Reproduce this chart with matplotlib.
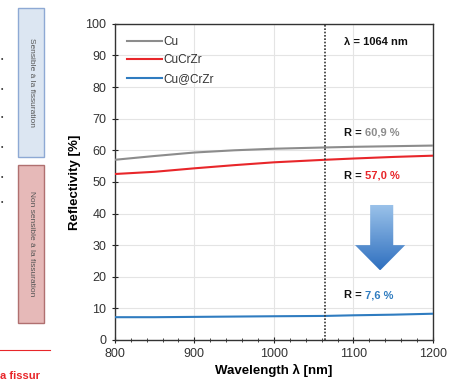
import numpy as np
import matplotlib.pyplot as plt
from matplotlib.patches import Polygon, Rectangle
from matplotlib.colors import LinearSegmentedColormap

plt.rcParams['font.family'] = ['Liberation Sans', 'DejaVu Sans']

# data
wavelength = [800, 850, 900, 950, 1000, 1064, 1100, 1150, 1200]
r_cu = [57.0, 58.2, 59.3, 60.0, 60.5, 60.9, 61.1, 61.3, 61.5]
r_cucrzr = [52.5, 53.2, 54.3, 55.3, 56.2, 57.0, 57.4, 57.9, 58.3]
r_cucrzr_coat = [7.2, 7.2, 7.3, 7.4, 7.5, 7.6, 7.8, 8.0, 8.3]

series_names = ['Cu', 'CuCrZr', 'Cu@CrZr']
series_colors = ['#8c8c8c', '#e8262a', '#2f7cc0']
laser_wl = 1064
r_labels = ['60,9 %', '57,0 %', '7,6 %']
r_label_y = [65.5, 52.0, 14.2]


def draw_arrow(ax, x0, x1, hx0, hx1, ytop, yhead, ytip):
    xm = (hx0 + hx1) / 2
    pts = [(x0, ytop), (x1, ytop), (x1, yhead), (hx1, yhead), (xm, ytip),
           (hx0, yhead), (x0, yhead)]
    poly = Polygon(pts, closed=True, facecolor='none', edgecolor='none',
                   transform=ax.transData)
    ax.add_patch(poly)
    cmap = LinearSegmentedColormap.from_list('b', ['#9cc3ea', '#2e6fbf'])
    grad = np.linspace(0, 1, 256).reshape(-1, 1)
    im = ax.imshow(grad, cmap=cmap, aspect='auto', origin='upper',
                   extent=[hx0, hx1, ytip, ytop], zorder=4)
    im.set_clip_path(poly)


fig = plt.figure(figsize=(4.52, 3.85), dpi=100)
ax = fig.add_axes([0.254, 0.117, 0.704, 0.821])

series = [r_cu, r_cucrzr, r_cucrzr_coat]
for vals, name, col in zip(series, series_names, series_colors):
    ax.plot(wavelength, vals, color=col, lw=1.5, label=name, zorder=3)

ax.axvline(laser_wl, color='#333333', lw=1.2, ls=(0, (1, 1)), zorder=3)

ax.set_xlim(800, 1200)
ax.set_ylim(0, 100)
ax.set_xticks([800, 900, 1000, 1100, 1200])
ax.set_xticks(np.arange(800, 1201, 20), minor=True)
ax.set_yticks(np.arange(0, 101, 10))
ax.grid(True, color='#e4e4e4', lw=0.8, zorder=0)
ax.tick_params(axis='both', which='both', direction='inout', labelsize=9,
               colors='#222222', labelcolor='#333333')
ax.tick_params(axis='both', which='major', length=5)
ax.tick_params(axis='x', which='minor', length=3)
for s in ax.spines.values():
    s.set_color('#333333')
    s.set_linewidth(1.0)

ax.set_xlabel('Wavelength λ [nm]', fontsize=9.5, fontweight='bold', labelpad=3)
ax.set_ylabel('Reflectivity [%]', fontsize=9.5, fontweight='bold', labelpad=3)

ax.legend(loc='upper left', frameon=False, fontsize=8.5, handlelength=3.0,
          handletextpad=0.1, labelspacing=0.55, borderaxespad=0.6,
          labelcolor='#333333')

ax.text(1128, 94.3, 'λ = 1064 nm', fontsize=8, fontweight='bold',
        ha='center', va='center', color='#111111')
for lab, y, col in zip(r_labels, r_label_y, series_colors):
    ax.text(1088, y, 'R =', fontsize=8, fontweight='bold',
            ha='left', va='center', color='#111111')
    ax.text(1114, y, lab, fontsize=8, fontweight='bold', ha='left',
            va='center', color=col)

draw_arrow(ax, 1121, 1150, 1102, 1165, 42.7, 30.0, 22.0)

# side panel from the slide
fig.patches.append(Rectangle((18 / 452, 1 - 157 / 385), 26 / 452, 149 / 385,
                             transform=fig.transFigure, facecolor='#dce6f2',
                             edgecolor='#8ea9d4', lw=1.0))
fig.patches.append(Rectangle((18 / 452, 1 - 323 / 385), 26 / 452, 158 / 385,
                             transform=fig.transFigure, facecolor='#e6b9b8',
                             edgecolor='#b07070', lw=1.0))
fig.text(31 / 452, 1 - 82 / 385, 'Sensible à la fissuration', rotation=270,
         fontsize=6, color='#555555', ha='center', va='center')
fig.text(31 / 452, 1 - 244 / 385, 'Non sensible à la fissuration',
         rotation=270, fontsize=6, color='#555555', ha='center', va='center')
for yy in [60, 90, 117, 147, 177, 203]:
    fig.text(1 / 452, 1 - yy / 385, '•', fontsize=5, color='#333333',
             ha='left', va='center')
fig.add_artist(plt.Line2D([0, 50 / 452], [1 - 350 / 385, 1 - 350 / 385],
                          transform=fig.transFigure, color='#e8262a', lw=0.8))
fig.text(0, 1 - 376 / 385, 'a fissur', fontsize=8, fontweight='bold',
         color='#e8262a', ha='left', va='center')

fig.savefig('out.png', dpi=100)
